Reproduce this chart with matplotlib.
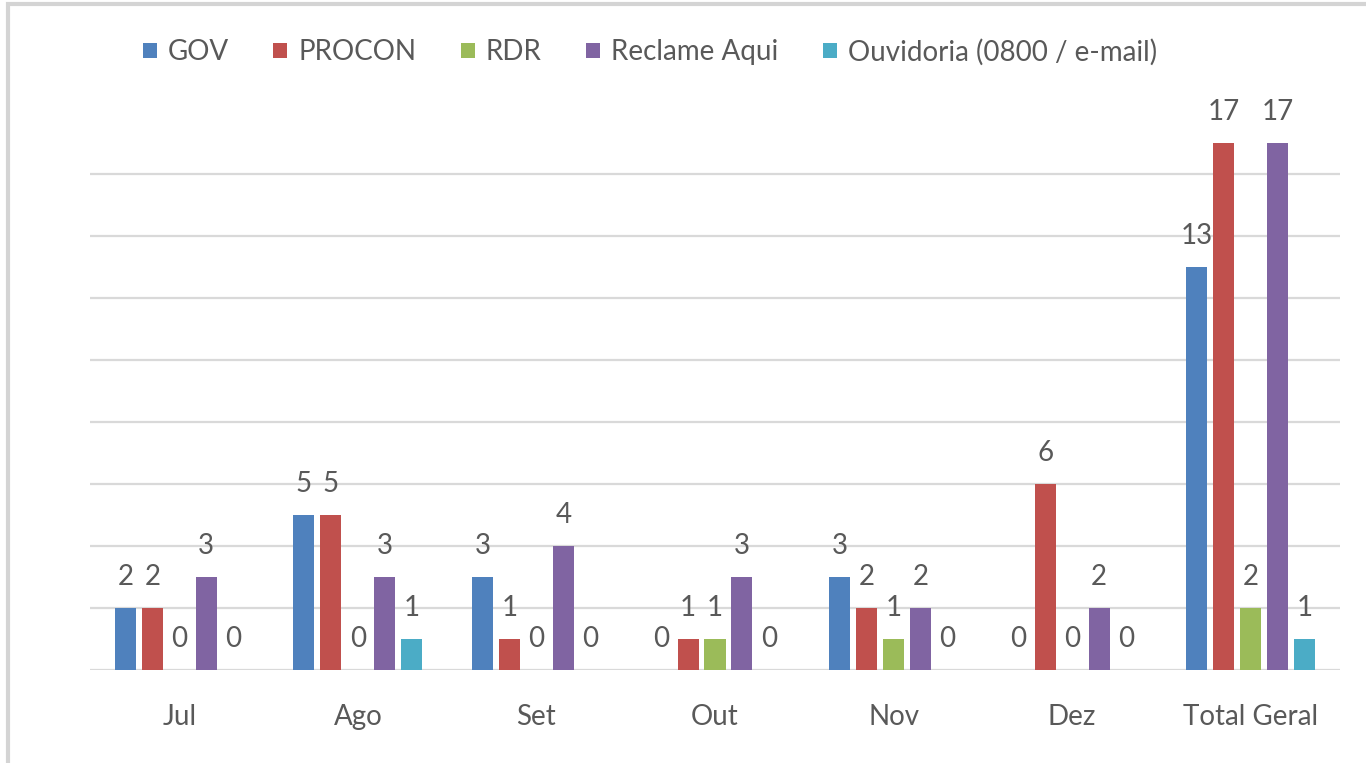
import matplotlib
matplotlib.use("Agg")
import matplotlib.pyplot as plt
from matplotlib.patches import Patch, Rectangle
import numpy as np

categories = ["Jul", "Ago", "Set", "Out", "Nov", "Dez", "Total Geral"]
series_names = ["GOV", "PROCON", "RDR", "Reclame Aqui", "Ouvidoria (0800 / e-mail)"]
gov = [2, 5, 3, 0, 3, 0, 13]
procon = [2, 5, 1, 1, 2, 6, 17]
rdr = [0, 0, 0, 1, 1, 0, 2]
reclame = [3, 3, 4, 3, 2, 2, 17]
ouvidoria = [0, 1, 0, 0, 0, 0, 1]
series_values = [gov, procon, rdr, reclame, ouvidoria]
colors = ["#4F81BD", "#C0504D", "#9BBB59", "#8064A2", "#4BACC6"]

plt.rcParams['font.family'] = ['Lato', 'DejaVu Sans']
text_color = "#595959"
fs = 20

fig = plt.figure(figsize=(13.66, 7.63), dpi=100)
ax = fig.add_axes([90/1366, 93/763, 1250/1366, 558/763])

x = np.arange(len(categories))
step = 0.151
bw = 0.118
for i, (vals, c) in enumerate(zip(series_values, colors)):
    pos = x + (i - 2) * step
    ax.bar(pos, vals, width=bw, color=c, zorder=3)
    for px, v in zip(pos, vals):
        ax.annotate(str(v), (px, v), xytext=(0, 22.5), textcoords="offset points",
                    ha="center", va="center", fontsize=fs, color=text_color, zorder=4)

ax.set_xlim(-0.5, len(categories) - 0.5)
ax.set_ylim(0, 18)
ax.set_yticks(np.arange(0, 17, 2))
ax.yaxis.grid(True, color="#D9D9D9", linewidth=1.6, zorder=0)
ax.tick_params(axis="y", left=False, labelleft=False)
ax.set_xticks(x)
ax.set_xticklabels(categories, fontsize=fs, color=text_color)
ax.tick_params(axis="x", bottom=False, pad=21)
for s in ["top", "right", "left", "bottom"]:
    ax.spines[s].set_visible(False)

handles = [Patch(facecolor=c, edgecolor="none") for c in colors]
leg = fig.legend(handles, series_names, loc="center", bbox_to_anchor=(650/1366, 1 - 52/763),
                 ncol=5, frameon=False, fontsize=fs, handlelength=0.5, handleheight=0.5,
                 handletextpad=0.4, columnspacing=1.6)
for t in leg.get_texts():
    t.set_color(text_color)

fig.patches.append(Rectangle((8/1366, -0.1), 1.2, 1 - 4/763 + 0.1, transform=fig.transFigure,
                             fill=False, edgecolor="#D4D4D4", linewidth=3))

fig.savefig("out.png", dpi=100)
